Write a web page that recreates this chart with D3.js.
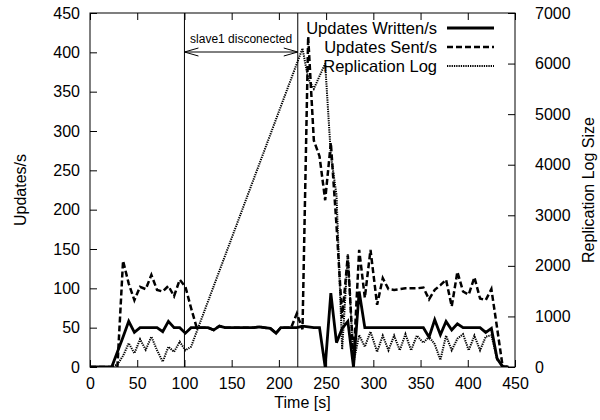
<!DOCTYPE html>
<head>
<meta charset="utf-8">
<style>
body{
  margin:0;
  background-color:white;
}
text{
  font-family: "Liberation Sans", Arial, Helvetica, sans-serif;
  fill:black;
}
.axis path{ display:none; }
.axis line{ stroke:black; stroke-width:1px; }
.axis text{ font-size:16px; }
.series{ fill:none; stroke:black; stroke-linejoin:miter; }
</style>
</head>
<body>
<svg width="600" height="420"></svg>

<script src="https://d3js.org/d3.v7.min.js"></script>
<script>

// sample times [s]
var times = [0,5,11,17,23,29,35,41,47,53,59,65,71,77,83,89,95,101,107,113,
  119,125,131,137,143,149,155,161,167,173,179,185,191,197,202,208,213,219,225,231,
  237,243,249,255,261,267,273,279,285,291,297,304,310,316,322,328,334,340,346,353,
  359,365,371,377,383,389,395,401,407,413,419,425,431,437,443];

// Updates Written/s
var written = [0,0,0,0,0,19,38,58,44,50,50,50,50,45,58,50,50,43,50,50,
  50,50,47,52,50,50,50,50,50,50,51,50,49,43,50,50,50,50,52,51,
  50,50,0,94,31,49,58,0,96,50,50,50,50,50,50,50,50,50,50,50,
  38,60,41,58,47,55,50,50,50,50,44,49,11,0,0];

// Updates Sent/s
var sent = [0,0,0,0,0,0,135,106,85,102,99,117,98,96,103,90,111,102,75,50,
  50,50,47,52,50,50,50,50,50,50,51,50,49,43,50,50,50,68,48,420,
  288,268,212,285,180,62,142,8,149,88,149,79,113,99,98,99,100,100,100,101,
  86,98,104,111,77,121,96,92,114,87,85,99,50,0,0];

// Replication Log (right axis)
var replLog = [0,0,0,0,0,50,220,470,270,550,340,600,330,105,400,300,500,330,400,700,
  1000,1300,1600,1900,2200,2500,2800,3100,3400,3700,4000,4300,4600,4900,5150,5450,5700,6000,6300,5700,
  5500,5750,6000,4200,3400,350,2230,80,630,400,700,300,620,330,620,330,650,330,620,480,
  600,450,140,620,330,560,650,330,620,330,600,630,150,30,0];

var xTicks = [0,50,100,150,200,250,300,350,400,450];
var yTicks = [0,50,100,150,200,250,300,350,400,450];
var y2Ticks = [0,1000,2000,3000,4000,5000,6000,7000];

var seriesNames = ["Updates Written/s", "Updates Sent/s", "Replication Log"];
var markers = [100, 220];
var noteText = "slave1 disconected";

var svg = d3.select("svg"),
    plotL = 90, plotR = 515, plotT = 13, plotB = 367;

var x = d3.scaleLinear().domain([0, 450]).range([plotL, plotR]);
var y = d3.scaleLinear().domain([0, 450]).range([plotB, plotT]);
var y2 = d3.scaleLinear().domain([0, 7000]).range([plotB, plotT]);

// axes, ticks pointing inward like gnuplot
svg.append("g").attr("class", "axis")
  .attr("transform", "translate(0," + plotB + ")")
  .call(d3.axisBottom(x).tickValues(xTicks).tickSizeInner(-7).tickSizeOuter(0).tickPadding(11));

svg.append("g").attr("class", "axis")
  .attr("transform", "translate(0," + plotT + ")")
  .call(d3.axisTop(x).tickValues(xTicks).tickSizeInner(-7).tickSizeOuter(0).tickFormat(""));

svg.append("g").attr("class", "axis")
  .attr("transform", "translate(" + plotL + ",0)")
  .call(d3.axisLeft(y).tickValues(yTicks).tickSizeInner(-7).tickSizeOuter(0).tickPadding(10));

svg.append("g").attr("class", "axis")
  .attr("transform", "translate(" + plotR + ",0)")
  .call(d3.axisRight(y2).tickValues(y2Ticks).tickSizeInner(-7).tickSizeOuter(0).tickPadding(20)
    .tickFormat(d3.format("d")));

svg.append("defs").append("clipPath").attr("id", "clip")
  .append("rect")
  .attr("x", plotL).attr("y", plotT)
  .attr("width", plotR - plotL).attr("height", plotB - plotT);

// disconnect markers
svg.selectAll(".marker")
  .data(markers)
  .enter().append("line")
  .attr("class", "marker")
  .attr("x1", d => x(d)).attr("x2", d => x(d))
  .attr("y1", plotT).attr("y2", plotB)
  .attr("stroke", "black").attr("stroke-width", 1);

var arrowY = 52;
svg.append("line")
  .attr("x1", x(markers[0])).attr("x2", x(markers[1]))
  .attr("y1", arrowY).attr("y2", arrowY)
  .attr("stroke", "black").attr("stroke-width", 1);

// open arrow heads both ends
[[markers[0], 1], [markers[1], -1]].forEach(function(a) {
  var px = x(a[0]), s = a[1];
  svg.append("path")
    .attr("d", "M" + (px + s * 14) + "," + (arrowY - 4) + "L" + px + "," + arrowY + "L" + (px + s * 14) + "," + (arrowY + 4))
    .attr("fill", "none").attr("stroke", "black").attr("stroke-width", 1);
});

svg.append("text")
  .attr("x", (x(markers[0]) + x(markers[1])) / 2)
  .attr("y", 43)
  .attr("text-anchor", "middle")
  .style("font-size", "12px")
  .text(noteText);

// series
var styles = [
  {data: written, scale: y, width: 2.8, dash: null},
  {data: sent, scale: y, width: 2.5, dash: "6,3"},
  {data: replLog, scale: y2, width: 2, dash: "1.3,1"}
];

var plot = svg.append("g").attr("clip-path", "url(#clip)");

styles.forEach(function(s) {
  var line = d3.line()
    .x((d, i) => x(times[i]))
    .y(d => s.scale(d));
  plot.append("path")
    .attr("class", "series")
    .attr("d", line(s.data))
    .attr("stroke-width", s.width)
    .attr("stroke-dasharray", s.dash);
});

// legend
var legend = svg.append("g");
seriesNames.forEach(function(name, i) {
  var ly = 28 + i * 19;
  legend.append("text")
    .attr("x", 437).attr("y", ly)
    .attr("dy", "0.35em")
    .attr("text-anchor", "end")
    .style("font-size", "16.5px")
    .text(name);
  legend.append("line")
    .attr("x1", 447).attr("x2", 494)
    .attr("y1", ly).attr("y2", ly)
    .attr("stroke", "black")
    .attr("stroke-width", styles[i].width)
    .attr("stroke-dasharray", styles[i].dash);
});

// frame
svg.append("rect")
  .attr("x", plotL).attr("y", plotT)
  .attr("width", plotR - plotL).attr("height", plotB - plotT)
  .attr("fill", "none").attr("stroke", "black").attr("stroke-width", 1);

// axis titles
svg.append("text")
  .attr("x", (plotL + plotR) / 2).attr("y", 408)
  .attr("text-anchor", "middle")
  .style("font-size", "16px")
  .text("Time [s]");

svg.append("text")
  .attr("transform", "translate(20," + (plotT + plotB) / 2 + ") rotate(-90)")
  .attr("text-anchor", "middle")
  .attr("dy", "0.35em")
  .style("font-size", "16px")
  .text("Updates/s");

svg.append("text")
  .attr("transform", "translate(588," + (plotT + plotB) / 2 + ") rotate(-90)")
  .attr("text-anchor", "middle")
  .attr("dy", "0.35em")
  .style("font-size", "16px")
  .text("Replication Log Size");

</script>
</body>
